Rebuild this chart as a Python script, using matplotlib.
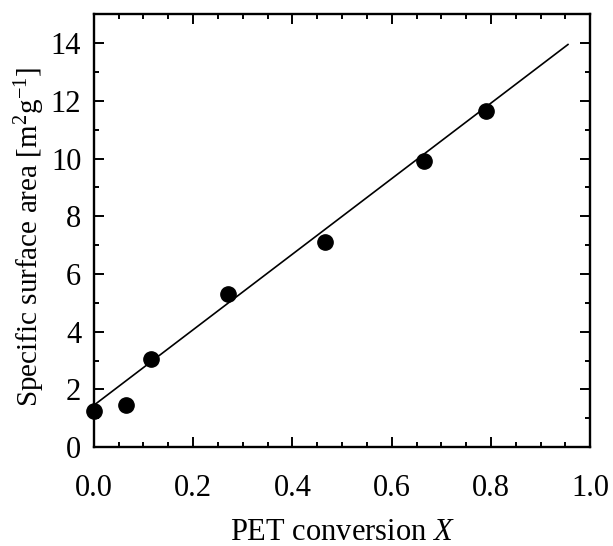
import numpy as np
import matplotlib
matplotlib.use("Agg")
import matplotlib.pyplot as plt
from matplotlib.ticker import MultipleLocator, FormatStrFormatter
from matplotlib.transforms import blended_transform_factory

plt.rcParams['font.family'] = ['Liberation Serif', 'DejaVu Serif']
plt.rcParams['mathtext.fontset'] = 'custom'
plt.rcParams['mathtext.rm'] = 'Liberation Serif'
plt.rcParams['mathtext.it'] = 'Liberation Serif:italic'

# measured points
conversion = [0.0, 0.065, 0.115, 0.27, 0.465, 0.665, 0.79]
surface_area = [1.25, 1.45, 3.05, 5.3, 7.1, 9.9, 11.65]

# linear fit line endpoints
fit_x = [0.0, 0.955]
fit_y = [1.45, 13.95]

fig = plt.figure(figsize=(6.13, 5.46), dpi=100)
ax = fig.add_axes([0.153, 0.181, 0.81, 0.793])

ax.plot(fit_x, fit_y, color='k', linewidth=1.2, zorder=2)
ax.plot(conversion, surface_area, 'o', color='k', markersize=11, clip_on=False, zorder=3)

ax.set_xlim(0, 1.0)
ax.set_ylim(0, 15)
ax.xaxis.set_major_locator(MultipleLocator(0.2))
ax.xaxis.set_minor_locator(MultipleLocator(0.05))
ax.set_yticks([0, 2, 4, 6, 8, 10, 12, 14])
ax.yaxis.set_minor_locator(MultipleLocator(1))
ax.xaxis.set_major_formatter(FormatStrFormatter('%.1f'))

ax.tick_params(which='both', direction='in', top=True, right=True, width=1.4)
ax.tick_params(which='major', length=7, labelsize=22)
ax.tick_params(axis='x', which='major', pad=19)
ax.tick_params(axis='y', which='major', pad=9)
ax.tick_params(which='minor', length=3.5)
for s in ax.spines.values():
    s.set_linewidth(1.7)

ax.set_xlabel('PET conversion $\\mathit{X}$', fontsize=22, va='baseline')
ax.xaxis.set_label_coords(0.5, 6.5 / 546,
                          transform=blended_transform_factory(ax.transAxes, fig.transFigure))
ax.set_ylabel('Specific surface area [m$^2$g$^{-1}$]', fontsize=21, va='center')
ax.yaxis.set_label_coords(30 / 613, 1 - 237 / 546, transform=fig.transFigure)

fig.savefig('out.png', dpi=100)
